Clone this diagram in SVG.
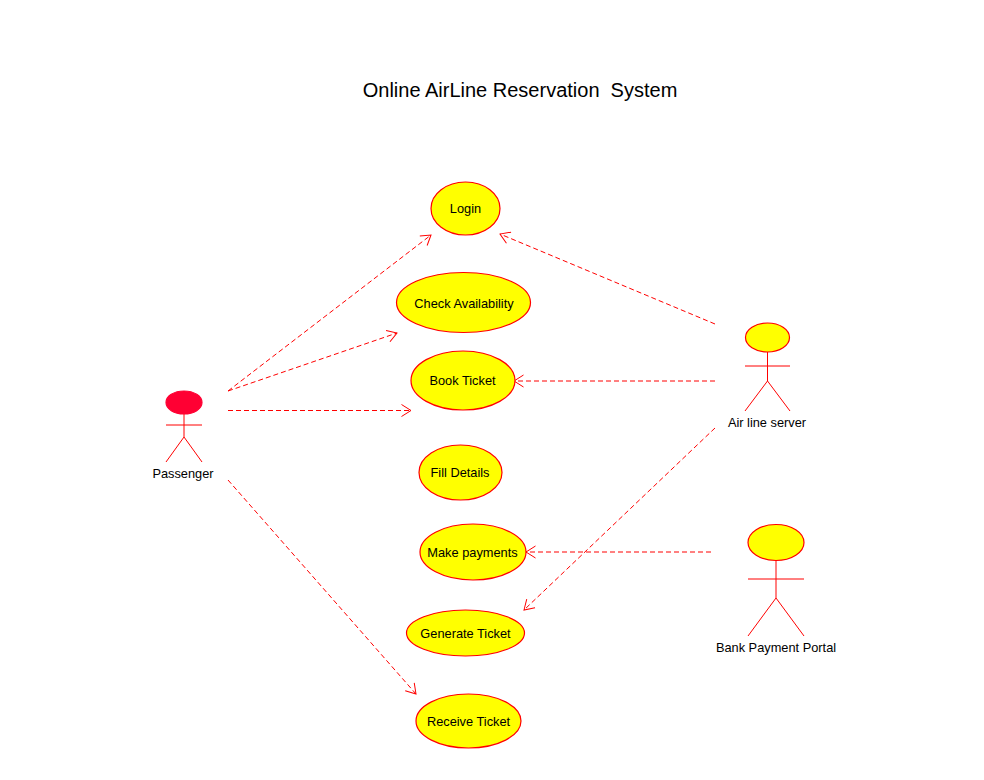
<svg xmlns="http://www.w3.org/2000/svg" width="984" height="780" viewBox="0 0 984 780">
<style>
text{font-family:"Liberation Sans",Arial,sans-serif;font-size:12.8px;fill:#000;text-anchor:middle}
.title{font-size:20px;white-space:pre}
ellipse{fill:#ff0;stroke:#f00;stroke-width:1.2}
.actor line{stroke:#f00;stroke-width:1}
.conn{fill:none;stroke:#f00;stroke-width:1;stroke-dasharray:5 3;marker-end:url(#open)}
</style>
<defs>
<marker id="open" markerUnits="userSpaceOnUse" markerWidth="16" markerHeight="14" refX="14" refY="7" orient="auto" overflow="visible">
<path d="M4.5 1L14 7L4.5 13" fill="none" stroke="#f00" stroke-width="1"/>
</marker>
</defs>
<rect width="984" height="780" fill="#fff"/>
<text class="title" x="520" y="97" xml:space="preserve">Online AirLine Reservation  System</text>
<g id="connectors">
<line class="conn" x1="228" y1="391" x2="431" y2="235"/>
<line class="conn" x1="228" y1="391" x2="397" y2="333"/>
<line class="conn" x1="228" y1="410.500" x2="411" y2="410.500"/>
<line class="conn" x1="228" y1="480" x2="416" y2="694"/>
<line class="conn" x1="715" y1="324" x2="500" y2="234"/>
<line class="conn" x1="715" y1="381" x2="514" y2="381"/>
<line class="conn" x1="715" y1="428" x2="524" y2="610"/>
<line class="conn" x1="711" y1="552" x2="526" y2="552"/>
</g>
<g id="login"><ellipse cx="465.500" cy="208.500" rx="34.500" ry="26.500"/><text x="465.500" y="213">Login</text></g>
<g id="check-availability"><ellipse cx="463.500" cy="302.500" rx="67" ry="30"/><text x="464" y="308">Check Availability</text></g>
<g id="book-ticket"><ellipse cx="463" cy="380.500" rx="52" ry="29.500"/><text x="462.500" y="385">Book Ticket</text></g>
<g id="fill-details"><ellipse cx="460.500" cy="472.500" rx="41.500" ry="27.500"/><text x="460" y="477">Fill Details</text></g>
<g id="make-payments"><ellipse cx="473" cy="552" rx="53" ry="28"/><text x="472.500" y="557">Make payments</text></g>
<g id="generate-ticket"><ellipse cx="465.500" cy="633" rx="59" ry="23"/><text x="465.500" y="638">Generate Ticket</text></g>
<g id="receive-ticket"><ellipse cx="468.500" cy="721" rx="52.500" ry="27"/><text x="468.500" y="726">Receive Ticket</text></g>
<g id="passenger" class="actor">
<ellipse cx="184" cy="402.500" rx="18" ry="11.500" style="fill:#ff0033;stroke:#ff0033"/>
<line x1="184" y1="414" x2="184" y2="437"/><line x1="166" y1="425" x2="202" y2="425"/>
<line x1="184" y1="437" x2="166" y2="462"/><line x1="184" y1="437" x2="202" y2="462"/>
<text x="183" y="478">Passenger</text>
</g>
<g id="air-line-server" class="actor">
<ellipse cx="767.500" cy="337.500" rx="22" ry="14.500"/>
<line x1="767.500" y1="352" x2="767.500" y2="381"/><line x1="745" y1="366" x2="790" y2="366"/>
<line x1="767.500" y1="381" x2="745" y2="411"/><line x1="767.500" y1="381" x2="790" y2="411"/>
<text x="767" y="427">Air line server</text>
</g>
<g id="bank-payment-portal" class="actor">
<ellipse cx="776" cy="542.500" rx="28" ry="18"/>
<line x1="776" y1="561" x2="776" y2="598"/><line x1="748" y1="579" x2="804" y2="579"/>
<line x1="776" y1="598" x2="748" y2="636"/><line x1="776" y1="598" x2="804" y2="636"/>
<text x="776" y="652">Bank Payment Portal</text>
</g>
</svg>
